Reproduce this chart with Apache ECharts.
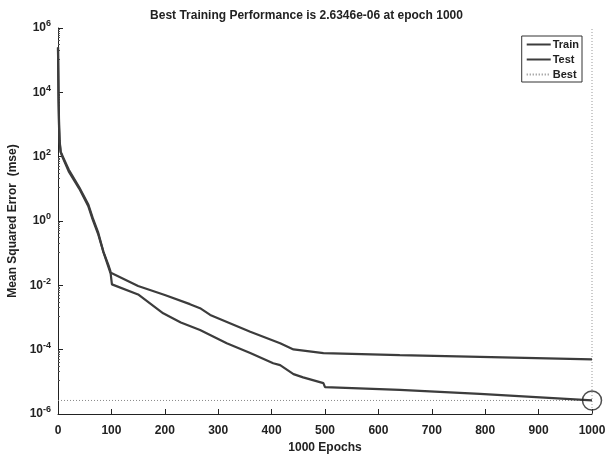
<!DOCTYPE html>
<html>
<head>
<meta charset="utf-8">
<script src="https://cdn.jsdelivr.net/npm/echarts@6/dist/echarts.min.js"></script>
<style>html,body{margin:0;padding:0;background:#fff}#c{width:613px;height:454px}</style>
</head>
<body>
<div id="c"></div>
<script>
var titleText = 'Best Training Performance is 2.6346e-06 at epoch 1000';
var xLabel = '1000 Epochs';
var yLabel = 'Mean Squared Error  (mse)';
var xTicks = [0, 100, 200, 300, 400, 500, 600, 700, 800, 900, 1000];
var yTickExps = [-6, -4, -2, 0, 2, 4, 6];

var trainEpochs = [0, 1, 2, 3, 5, 8, 20, 40, 57, 65, 75, 85, 95, 98, 101, 150, 197, 230, 266, 316, 360, 403, 416, 441, 459, 497, 500, 640, 790, 1000];
var trainValues = [2.5e5, 1e4, 1e3, 3.2e2, 1.4e2, 1.0e2, 35, 10, 2.8, 1.1, 0.4, 0.11, 0.04, 0.028, 0.0107, 0.0052, 0.00135, 0.0007, 0.00041, 0.000158, 0.000079, 0.000038, 0.000033, 0.0000174, 0.0000138, 0.0000091, 0.0000068, 0.0000056, 0.0000042, 0.0000026346];

var testEpochs = [0, 1, 2, 3, 5, 8, 20, 40, 57, 65, 75, 85, 95, 98, 101, 150, 200, 247, 266, 285, 360, 416, 441, 497, 640, 790, 1000];
var testValues = [2.5e5, 6e3, 8e2, 2.8e2, 1.4e2, 1.1e2, 40, 11, 3.2, 1.25, 0.45, 0.11, 0.035, 0.025, 0.0234, 0.0095, 0.005, 0.0026, 0.00195, 0.0012, 0.00036, 0.000158, 0.000102, 0.0000776, 0.0000676, 0.00006, 0.00005];

var bestEpoch = 1000;
var bestValue = 2.6346e-6;
var yMin = 1e-6, yMax = 1e6;

var lineColor = '#3c3c3c';
var font = 'Liberation Sans, Arial, sans-serif';

function pairs(xs, ys) { return xs.map(function (x, i) { return [x, ys[i]]; }); }

var chart = echarts.init(document.getElementById('c'), null, {renderer: 'canvas'});
chart.setOption({
  backgroundColor: '#ffffff',
  animation: false,
  title: {
    text: titleText, left: 'center', top: 5,
    textStyle: {fontFamily: font, fontSize: 12, fontWeight: 'bold', color: '#222'}
  },
  legend: {
    data: ['Train', 'Test', 'Best'],
    orient: 'vertical',
    right: 31, top: 36,
    itemWidth: 24, itemHeight: 10, itemGap: 4,
    padding: [3, 3, 2, 4],
    borderColor: '#333', borderWidth: 1, backgroundColor: '#fff',
    itemStyle: {opacity: 0},
    textStyle: {fontFamily: font, fontSize: 11, fontWeight: 'bold', color: '#222', padding: [0, 0, 0, -3]}
  },
  grid: {left: 58, right: 21, top: 28, bottom: 40, containLabel: false, outerBoundsMode: 'none'},
  xAxis: {
    type: 'value', min: 0, max: 1000, interval: 100,
    name: xLabel, nameLocation: 'middle', nameGap: 22,
    nameTextStyle: {fontFamily: font, fontSize: 12, fontWeight: 'bold', color: '#222'},
    axisLine: {lineStyle: {color: '#222', width: 1}},
    axisTick: {inside: true, length: 5, lineStyle: {color: '#222'}},
    axisLabel: {fontFamily: font, fontSize: 12, fontWeight: 'bold', color: '#222', margin: 11,
      formatter: function (v) { return xTicks.indexOf(v) >= 0 ? String(v) : ''; }},
    splitLine: {show: false}
  },
  yAxis: {
    type: 'log', logBase: 10, min: yMin, max: yMax, interval: 2,
    name: yLabel, nameLocation: 'middle', nameGap: 34,
    nameTextStyle: {fontFamily: font, fontSize: 12, fontWeight: 'bold', color: '#222'},
    axisLine: {lineStyle: {color: '#222', width: 1}},
    axisTick: {inside: true, length: 5, lineStyle: {color: '#222'}},
    minorTick: {show: true, splitNumber: 10, length: 2, lineStyle: {color: '#555'}},
    axisLabel: {
      fontFamily: font, fontSize: 12, fontWeight: 'bold', color: '#222', margin: 7,
      formatter: function (v) {
        var e = Math.round(Math.log10(v));
        if (yTickExps.indexOf(e) < 0) return '';
        return '10{sup|' + e + '}';
      },
      rich: {sup: {fontFamily: font, fontSize: 9, fontWeight: 'bold', color: '#222', verticalAlign: 'top', padding: [0, 0, 8, 0]}}
    },
    splitLine: {show: false}
  },
  series: [
    {name: 'Train', type: 'line', data: pairs(trainEpochs, trainValues), showSymbol: false, symbol: 'none',
      lineStyle: {color: lineColor, width: 2.2}, itemStyle: {color: lineColor}, z: 5},
    {name: 'Test', type: 'line', data: pairs(testEpochs, testValues), showSymbol: false, symbol: 'none',
      lineStyle: {color: lineColor, width: 2.2}, itemStyle: {color: lineColor}, z: 5},
    {name: 'Best', type: 'line', data: [[0, bestValue], [bestEpoch, bestValue]], showSymbol: false, symbol: 'none',
      lineStyle: {color: '#888', width: 1, type: [1, 2]}, itemStyle: {color: '#888'}, z: 3},
    {name: 'Best', type: 'line', data: [[bestEpoch, yMin], [bestEpoch, yMax]], showSymbol: false, symbol: 'none',
      lineStyle: {color: '#999', width: 1, type: [1, 2]}, itemStyle: {color: '#999'}, z: 3},
    {name: 'BestPoint', type: 'scatter', data: [[bestEpoch, bestValue]], symbol: 'circle', symbolSize: 19,
      itemStyle: {color: 'rgba(0,0,0,0)', borderColor: '#222', borderWidth: 1.5}, z: 6}
  ]
});
</script>
</body>
</html>
